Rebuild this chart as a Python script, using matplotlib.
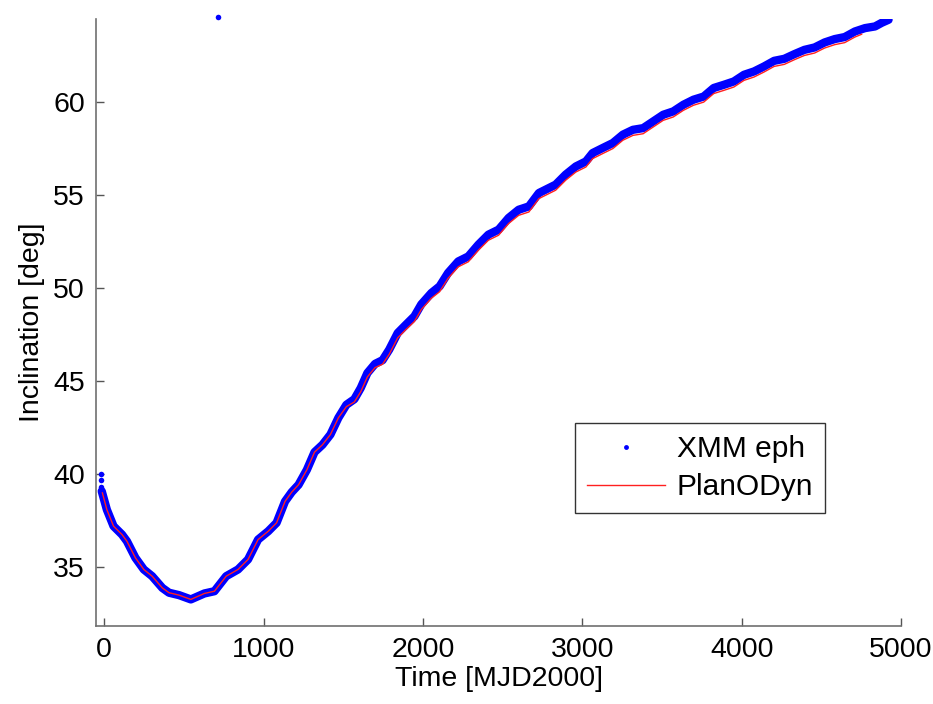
import matplotlib
matplotlib.use("Agg")
import matplotlib.pyplot as plt

plt.rcParams['font.family'] = ['Liberation Sans', 'DejaVu Sans']

# XMM ephemeris inclination [deg] vs time [MJD2000]
eph_day = [-15, 17, 59, 112, 143, 196, 249, 301, 365, 407, 470, 544, 629, 692, 766, 840,
           903, 966, 1030, 1082, 1135, 1177, 1220, 1272, 1320, 1370, 1420, 1470, 1520,
           1570, 1610, 1652, 1700, 1747, 1789, 1842, 1894, 1947, 1990, 2053, 2105, 2158,
           2222, 2285, 2348, 2411, 2475, 2538, 2601, 2665, 2728, 2791, 2833, 2896, 2960,
           3023, 3065, 3128, 3192, 3255, 3318, 3382, 3445, 3508, 3571, 3635, 3698, 3762,
           3825, 3888, 3951, 4015, 4078, 4141, 4204, 4268, 4331, 4394, 4458, 4521, 4584,
           4647, 4711, 4774, 4837, 4880, 4922]
eph_incl = [39.05, 38.06, 37.17, 36.72, 36.36, 35.47, 34.84, 34.48, 33.85, 33.59, 33.46,
            33.23, 33.55, 33.67, 34.48, 34.84, 35.38, 36.45, 36.9, 37.35, 38.5, 39.0, 39.4,
            40.2, 41.15, 41.55, 42.1, 43.0, 43.7, 44.0, 44.6, 45.41, 45.9, 46.1, 46.67,
            47.56, 48.01, 48.46, 49.1, 49.71, 50.07, 50.79, 51.41, 51.68, 52.31, 52.85,
            53.12, 53.75, 54.19, 54.37, 55.09, 55.36, 55.54, 56.08, 56.52, 56.79, 57.24,
            57.51, 57.78, 58.23, 58.49, 58.58, 58.94, 59.3, 59.48, 59.84, 60.11, 60.28,
            60.74, 60.91, 61.09, 61.45, 61.63, 61.9, 62.2, 62.31, 62.56, 62.79, 62.92,
            63.19, 63.37, 63.48, 63.78, 63.96, 64.05, 64.25, 64.41]

# isolated ephemeris samples (start of arc and one outlier)
stray_day = [-21, -21, -21, 715]
stray_incl = [40.0, 39.64, 39.3, 64.55]

# PlanODyn propagation
model_day = [-11, 17, 59, 112, 143, 196, 249, 301, 365, 407, 470, 544, 629, 692, 766, 840,
             903, 966, 1030, 1082, 1135, 1177, 1220, 1272, 1320, 1370, 1420, 1470, 1520,
             1570, 1610, 1652, 1700, 1747, 1789, 1842, 1894, 1947, 1990, 2053, 2105, 2158,
             2222, 2285, 2348, 2411, 2475, 2538, 2601, 2665, 2728, 2791, 2833, 2896, 2960,
             3023, 3065, 3128, 3192, 3255, 3318, 3382, 3445, 3508, 3571, 3635, 3698, 3762,
             3825, 3888, 3951, 4015, 4078, 4141, 4204, 4268, 4331, 4394, 4458, 4521, 4584,
             4647, 4711, 4753]
model_incl = [38.96, 38.06, 37.17, 36.72, 36.36, 35.47, 34.84, 34.48, 33.85, 33.59, 33.46,
              33.23, 33.55, 33.67, 34.48, 34.84, 35.38, 36.45, 36.9, 37.35, 38.5, 39.0, 39.4,
              40.2, 41.15, 41.55, 42.1, 43.0, 43.6, 43.85, 44.4, 45.2, 45.7, 45.88, 46.42,
              47.3, 47.75, 48.18, 48.82, 49.43, 49.78, 50.5, 51.12, 51.39, 52.01, 52.55,
              52.82, 53.45, 53.89, 54.07, 54.79, 55.06, 55.24, 55.78, 56.22, 56.49, 56.94,
              57.21, 57.48, 57.93, 58.19, 58.28, 58.64, 59.0, 59.18, 59.54, 59.81, 59.98,
              60.44, 60.61, 60.79, 61.15, 61.33, 61.6, 61.9, 62.01, 62.26, 62.49, 62.62,
              62.89, 63.07, 63.18, 63.48, 63.63]

fig = plt.figure(figsize=(9.33, 7.04), dpi=100)
ax = fig.add_axes([0.1029, 0.1108, 0.8628, 0.8622])

# dense ephemeris dots drawn as a thick band
ax.plot(eph_day, eph_incl, '-', color='blue', lw=6.0, solid_joinstyle='round',
        solid_capstyle='round')
ax.plot(eph_day, eph_incl, 'o', color='blue', ms=3.5, mec='none', label='XMM eph')
ax.plot(stray_day, stray_incl, 'o', color='blue', ms=4.0, mec='none', clip_on=False)
ax.plot(model_day, model_incl, '-', color='#ff2020', lw=1.0, label='PlanODyn')

ax.set_xlim(-51, 5000)
ax.set_ylim(31.8, 64.45)
ax.set_xticks([0, 1000, 2000, 3000, 4000, 5000])
ax.set_yticks([35, 40, 45, 50, 55, 60])

for s in ['top', 'right']:
    ax.spines[s].set_visible(False)
for s in ['left', 'bottom']:
    ax.spines[s].set_color('#707070')
    ax.spines[s].set_linewidth(1.2)
ax.tick_params(direction='in', length=5.5, width=1.0, color='#555555',
               labelsize=20.5, pad=8)

ax.set_xlabel('Time [MJD2000]', fontsize=20.5, labelpad=2)
ax.set_ylabel('Inclination [deg]', fontsize=20.5, labelpad=6)

leg = ax.legend(loc='upper left', bbox_to_anchor=(0.6163, 0.3991),
                bbox_transform=fig.transFigure, fontsize=21.5, frameon=True,
                fancybox=False, edgecolor='#333333', framealpha=1,
                handlelength=2.6, handletextpad=0.4, borderpad=0.4,
                labelspacing=0.35, borderaxespad=0)
leg.get_frame().set_linewidth(1.0)

fig.savefig('out.png', dpi=100)
